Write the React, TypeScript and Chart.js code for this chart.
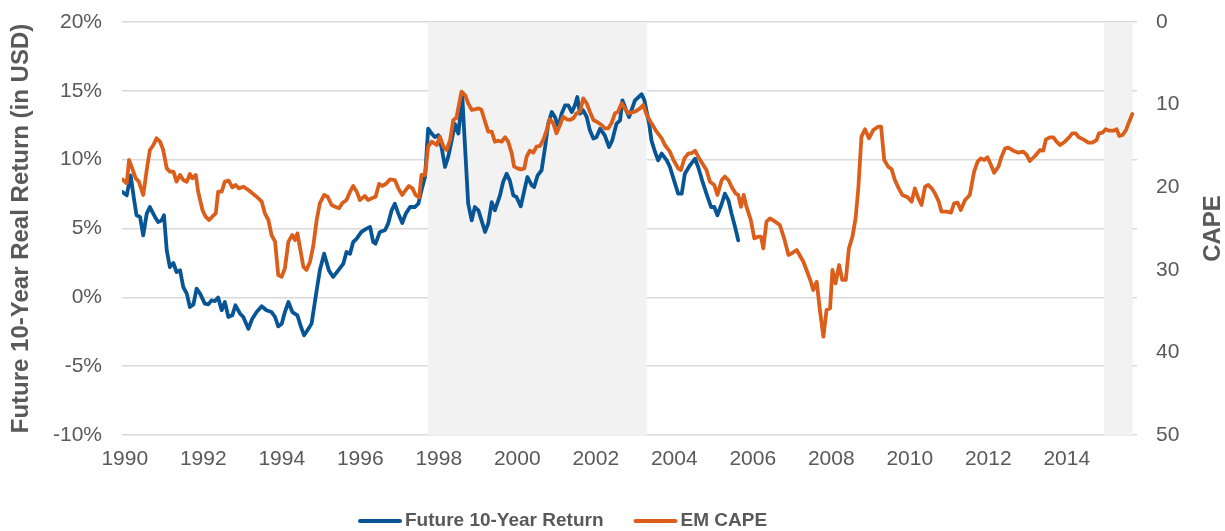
import React, { useEffect, useRef } from 'react';
import { Chart, registerables } from 'chart.js';

Chart.register(...registerables);

// ---------------- DATA ----------------
const seriesNames = ['Future 10-Year Return', 'EM CAPE'];
const leftTitle = 'Future 10-Year Real Return (in USD)';
const rightTitle = 'CAPE';
const yearTicks = [1990, 1992, 1994, 1996, 1998, 2000, 2002, 2004, 2006, 2008, 2010, 2012, 2014];
const shadeStarts = [1997.72, 2014.95];
const shadeEnds = [2003.3, 2015.68];

const returnYears = [
  1989.94, 1990.05, 1990.15, 1990.24, 1990.3, 1990.39, 1990.47, 1990.56, 1990.64, 1990.77, 1990.85, 1990.94,
  1991.0, 1991.07, 1991.15, 1991.24, 1991.32, 1991.41, 1991.49, 1991.58, 1991.66, 1991.75, 1991.83, 1991.92,
  1992.04, 1992.13, 1992.21, 1992.3, 1992.38, 1992.47, 1992.55, 1992.64, 1992.74, 1992.82, 1992.94,
  1993.02, 1993.15, 1993.25, 1993.36, 1993.49, 1993.61, 1993.74, 1993.83, 1993.91,
  1994.0, 1994.08, 1994.17, 1994.27, 1994.4, 1994.49, 1994.57, 1994.68, 1994.76, 1994.89, 1994.97,
  1995.08, 1995.2, 1995.31, 1995.44, 1995.57, 1995.65, 1995.74, 1995.82, 1995.91,
  1996.03, 1996.16, 1996.25, 1996.33, 1996.39, 1996.5, 1996.63, 1996.71, 1996.8, 1996.88, 1996.97,
  1997.07, 1997.16, 1997.27, 1997.39, 1997.48, 1997.56, 1997.65, 1997.73, 1997.82, 1997.9, 1997.99,
  1998.07, 1998.16, 1998.24, 1998.33, 1998.41, 1998.5, 1998.6, 1998.75, 1998.84, 1998.92,
  1999.01, 1999.09, 1999.18, 1999.26, 1999.35, 1999.43, 1999.56, 1999.64, 1999.73, 1999.81, 1999.9, 1999.98,
  2000.09, 2000.2, 2000.26, 2000.37, 2000.43, 2000.52, 2000.62, 2000.71, 2000.79, 2000.88, 2000.96,
  2001.05, 2001.13, 2001.22, 2001.3, 2001.39, 2001.47, 2001.53, 2001.6, 2001.68, 2001.77, 2001.85, 2001.94,
  2002.02, 2002.11, 2002.23, 2002.34, 2002.42, 2002.53, 2002.62, 2002.68, 2002.76, 2002.85,
  2003.0, 2003.17, 2003.24, 2003.36, 2003.42, 2003.51, 2003.59, 2003.68, 2003.81, 2003.89,
  2004.02, 2004.1, 2004.19, 2004.27, 2004.4, 2004.53, 2004.61, 2004.71, 2004.82, 2004.94,
  2005.02, 2005.1, 2005.21, 2005.29, 2005.38, 2005.46, 2005.55, 2005.63,
];
const returnValues = [
  7.65, 7.41, 8.86, 7.05, 5.96, 5.84, 4.5, 6.08, 6.56, 5.84, 5.47, 5.59,
  5.96, 3.41, 2.2, 2.49, 1.84, 1.96, 0.75, 0.27, -0.7, -0.51, 0.63, 0.27,
  -0.46, -0.51, -0.22, -0.27, -0.02, -0.94, -0.34, -1.43, -1.31, -0.58, -1.19,
  -1.43, -2.28, -1.55, -1.07, -0.65, -0.94, -1.07, -1.43, -2.11,
  -1.91, -1.07, -0.34, -1.07, -1.31, -2.15, -2.76, -2.28, -1.91, 0.51, 1.96,
  3.17, 1.96, 1.48, 1.96, 2.45, 3.29, 3.17, 4.02, 4.26,
  4.75, 4.99, 5.11, 4.02, 3.9, 4.75, 4.87, 5.35, 6.32, 6.8, 6.08,
  5.4, 6.08, 6.56, 6.56, 6.8, 7.77, 8.74, 12.25, 11.89, 11.65, 11.77,
  10.92, 9.47, 10.19, 11.4, 12.6, 11.9, 14.55, 6.8, 5.59, 6.56,
  6.32, 5.59, 4.75, 5.35, 6.92, 6.32, 7.41, 8.38, 8.98, 8.5, 7.41, 7.29,
  6.61, 8.01, 8.74, 8.14, 8.01, 8.86, 9.23, 10.92, 12.62, 13.46, 13.1,
  12.37, 13.34, 13.95, 13.95, 13.46, 13.95, 14.55, 13.34, 13.58, 13.1, 12.13, 11.53,
  11.65, 12.25, 11.77, 10.92, 11.4, 12.62, 12.86, 14.31, 13.7, 13.1,
  14.31, 14.75, 14.31, 12.62, 11.4, 10.56, 9.95, 10.44, 9.95, 9.47,
  8.26, 7.53, 7.53, 8.98, 9.59, 10.07, 9.47, 8.5, 7.53, 6.56,
  6.56, 5.96, 6.8, 7.53, 7.05, 6.08, 5.11, 4.14,
];

const capeYears = [
  1989.94, 1990.05, 1990.11, 1990.19, 1990.28, 1990.36, 1990.47, 1990.56, 1990.64, 1990.73, 1990.81, 1990.9, 1990.98,
  1991.07, 1991.15, 1991.24, 1991.32, 1991.41, 1991.49, 1991.58, 1991.66, 1991.72, 1991.81, 1991.87, 1991.98,
  1992.06, 1992.15, 1992.23, 1992.32, 1992.38, 1992.47, 1992.55, 1992.65, 1992.74, 1992.82, 1992.91,
  1993.02, 1993.15, 1993.25, 1993.36, 1993.49, 1993.57, 1993.66, 1993.74, 1993.83, 1993.91,
  1994.0, 1994.08, 1994.17, 1994.27, 1994.34, 1994.4, 1994.46, 1994.55, 1994.63, 1994.72, 1994.8, 1994.89, 1994.97,
  1995.08, 1995.17, 1995.27, 1995.36, 1995.46, 1995.54, 1995.65, 1995.74, 1995.82, 1995.91, 1995.99,
  1996.12, 1996.2, 1996.29, 1996.39, 1996.48, 1996.56, 1996.65, 1996.76, 1996.88, 1996.97,
  1997.07, 1997.16, 1997.24, 1997.33, 1997.41, 1997.5, 1997.56, 1997.65, 1997.73, 1997.82, 1997.95,
  1998.03, 1998.12, 1998.2, 1998.29, 1998.37, 1998.45, 1998.58, 1998.67, 1998.75, 1998.84, 1998.92,
  1999.02, 1999.09, 1999.18, 1999.26, 1999.35, 1999.43, 1999.52, 1999.6, 1999.69, 1999.77, 1999.86, 1999.92,
  2000.01, 2000.09, 2000.18, 2000.24, 2000.32, 2000.41, 2000.49, 2000.58, 2000.66, 2000.75, 2000.83, 2000.92,
  2001.0, 2001.09, 2001.17, 2001.26, 2001.34, 2001.43, 2001.51, 2001.6, 2001.68, 2001.77, 2001.85, 2001.94,
  2002.02, 2002.15, 2002.23, 2002.32, 2002.4, 2002.49, 2002.57, 2002.66, 2002.74, 2002.83,
  2003.0, 2003.13, 2003.21, 2003.3, 2003.42, 2003.55, 2003.68, 2003.76, 2003.89, 2003.98,
  2004.1, 2004.17, 2004.26, 2004.36, 2004.44, 2004.53, 2004.61, 2004.74, 2004.82, 2004.91,
  2005.02, 2005.1, 2005.21, 2005.29, 2005.38, 2005.46, 2005.56, 2005.63, 2005.7, 2005.77, 2005.84, 2005.95,
  2006.04, 2006.14, 2006.21, 2006.27, 2006.35, 2006.44, 2006.57, 2006.69, 2006.8, 2006.91, 2006.99,
  2007.12, 2007.29, 2007.37, 2007.48, 2007.54, 2007.63, 2007.71, 2007.8, 2007.88, 2007.97,
  2008.03, 2008.11, 2008.2, 2008.28, 2008.37, 2008.45, 2008.54, 2008.62, 2008.69, 2008.77, 2008.86, 2008.96,
  2009.07, 2009.2, 2009.27, 2009.35, 2009.45, 2009.54, 2009.62, 2009.72, 2009.81, 2009.95,
  2010.05, 2010.13, 2010.22, 2010.3, 2010.39, 2010.47, 2010.56, 2010.64, 2010.74, 2010.81, 2010.94,
  2011.05, 2011.13, 2011.22, 2011.3, 2011.41, 2011.53, 2011.64, 2011.73, 2011.81, 2011.9, 2011.98,
  2012.07, 2012.15, 2012.26, 2012.34, 2012.43, 2012.51, 2012.64, 2012.77, 2012.89, 2012.98,
  2013.06, 2013.19, 2013.32, 2013.4, 2013.47, 2013.57, 2013.66, 2013.74, 2013.83, 2013.95,
  2014.06, 2014.14, 2014.23, 2014.31, 2014.42, 2014.55, 2014.65, 2014.76, 2014.82, 2014.91, 2014.99,
  2015.08, 2015.19, 2015.27, 2015.34, 2015.42, 2015.51, 2015.58, 2015.67,
];
const capeValues = [
  19.05, 19.53, 16.71, 17.72, 18.93, 19.33, 20.94, 17.92, 15.5, 14.89, 14.08, 14.49, 15.5,
  17.72, 18.12, 18.12, 19.33, 18.52, 19.13, 19.33, 18.4, 18.93, 18.52, 20.54, 22.76,
  23.57, 23.97, 23.57, 23.16, 20.54, 20.54, 19.33, 19.21, 20.02, 19.73, 20.14,
  19.94, 20.34, 20.74, 21.15, 21.75, 23.16, 23.97, 25.79, 26.59, 30.63,
  30.83, 29.82, 26.59, 25.79, 26.39, 25.59, 27.2, 29.62, 30.02, 29.02, 27.2, 23.97, 21.95,
  20.94, 21.15, 22.15, 22.36, 22.56, 21.95, 21.55, 20.54, 19.85, 20.54, 21.55,
  21.07, 21.55, 21.35, 21.15, 19.61, 19.85, 19.61, 19.05, 19.13, 20.14,
  20.94, 20.34, 19.85, 20.14, 20.94, 21.23, 18.52, 18.52, 15.09, 14.49, 14.89,
  13.88, 15.09, 15.5, 14.29, 11.86, 11.6, 8.43, 8.84, 9.85, 10.65, 10.57,
  10.45, 10.65, 12.07, 13.28, 13.28, 14.49, 14.37, 14.49, 13.96, 14.49, 15.9, 17.51,
  17.72, 17.84, 17.72, 16.3, 15.58, 15.82, 15.09, 15.01, 14.29, 13.08, 11.78, 12.27,
  13.48, 12.47, 11.46, 11.78, 11.86, 11.66, 11.06, 10.85, 9.24, 9.85, 10.85, 11.86,
  12.07, 12.47, 12.87, 12.87, 12.27, 11.06, 10.85, 9.85, 10.45, 11.06,
  10.85, 10.45, 10.05, 11.26, 12.27, 13.28, 14.08, 14.89, 15.7, 16.71,
  17.72, 17.92, 16.51, 15.9, 15.9, 15.58, 16.3, 17.31, 17.92, 19.33,
  19.73, 20.94, 19.13, 18.72, 19.13, 19.94, 20.74, 20.94, 22.36, 20.94, 22.36, 23.97,
  26.19, 25.99, 25.99, 27.4, 24.17, 23.77, 24.17, 24.58, 26.19, 28.21, 28.01,
  27.6, 29.02, 30.02, 31.44, 32.45, 31.44, 34.87, 38.1, 34.87, 34.67,
  30.02, 31.64, 29.42, 31.23, 31.23, 27.4, 25.99, 23.77, 20.14, 13.88, 12.99, 14.08,
  13.08, 12.67, 12.67, 16.71, 17.51, 17.84, 19.13, 20.14, 20.94, 21.23,
  21.75, 20.14, 21.35, 22.15, 19.94, 19.73, 20.14, 20.74, 21.75, 22.96, 22.96,
  23.08, 21.95, 21.87, 22.76, 21.55, 20.94, 18.12, 16.91, 16.51, 16.71, 16.38,
  17.31, 18.24, 17.51, 16.3, 15.29, 15.21, 15.58, 15.82, 15.7, 16.1,
  16.83, 16.22, 15.5, 15.58, 14.21, 13.96, 13.96, 14.49, 14.89, 14.49,
  13.96, 13.48, 13.48, 13.96, 14.21, 14.61, 14.61, 14.29, 13.48, 13.4, 12.99,
  13.16, 13.16, 12.99, 13.8, 13.68, 13.08, 12.19, 11.14,
];

// ---------------- STYLE ----------------
const BLUE = '#075595';
const ORANGE = '#db5f1b';
const TEXT = '#595959';
const GRID = '#d9d9d9';
const SHADE = '#f2f2f2';
const FONT = "'Liberation Sans', Arial, Helvetica, sans-serif";

const shadePlugin = {
  id: 'shadeRegions',
  beforeDatasetsDraw(chart: any) {
    const { ctx, chartArea, scales } = chart;
    const x = scales.x;
    ctx.save();
    ctx.fillStyle = SHADE;
    for (let i = 0; i < shadeStarts.length; i++) {
      const x0 = x.getPixelForValue(shadeStarts[i]);
      const x1 = x.getPixelForValue(shadeEnds[i]);
      ctx.fillRect(x0, chartArea.top, x1 - x0, chartArea.bottom - chartArea.top);
    }
    ctx.restore();
  },
};

const extrasPlugin = {
  id: 'extras',
  afterDraw(chart: any) {
    const { ctx, chartArea } = chart;
    ctx.save();
    // right axis title, reading bottom-to-top
    ctx.fillStyle = TEXT;
    ctx.font = `bold 24px ${FONT}`;
    ctx.textAlign = 'center';
    ctx.textBaseline = 'middle';
    ctx.translate(chart.width - 12, (chartArea.top + chartArea.bottom) / 2);
    ctx.rotate(-Math.PI / 2);
    ctx.fillText(rightTitle, 0, 0);
    ctx.restore();

    // legend
    ctx.save();
    ctx.font = `bold 19px ${FONT}`;
    ctx.textBaseline = 'middle';
    ctx.textAlign = 'left';
    ctx.lineCap = 'round';
    ctx.lineWidth = 4;
    const cy = 521;
    const colors = [BLUE, ORANGE];
    let x = 358;
    seriesNames.forEach((name, i) => {
      ctx.strokeStyle = colors[i];
      ctx.beginPath();
      ctx.moveTo(x + 2, cy);
      ctx.lineTo(x + 42, cy);
      ctx.stroke();
      ctx.fillStyle = TEXT;
      ctx.fillText(name, x + 47, cy);
      x += 47 + ctx.measureText(name).width + 30;
    });
    ctx.restore();
  },
};

export default function App() {
  const canvasRef = useRef<HTMLCanvasElement | null>(null);

  useEffect(() => {
    if (!canvasRef.current) return;
    const chart = new Chart(canvasRef.current, {
      type: 'line',
      data: {
        datasets: [
          {
            label: seriesNames[0],
            data: returnYears.map((yr, i) => ({ x: yr, y: returnValues[i] })),
            borderColor: BLUE,
            backgroundColor: BLUE,
            borderWidth: 3.8,
            pointRadius: 0,
            tension: 0,
            borderJoinStyle: 'round',
            borderCapStyle: 'round',
            yAxisID: 'y',
            order: 2,
          },
          {
            label: seriesNames[1],
            data: capeYears.map((yr, i) => ({ x: yr, y: capeValues[i] })),
            borderColor: ORANGE,
            backgroundColor: ORANGE,
            borderWidth: 3.8,
            pointRadius: 0,
            tension: 0,
            borderJoinStyle: 'round',
            borderCapStyle: 'round',
            yAxisID: 'y2',
            order: 1,
          },
        ],
      },
      options: {
        animation: false,
        responsive: true,
        maintainAspectRatio: false,
        events: [],
        layout: { padding: { top: 22, left: 0, right: 0, bottom: 56 } },
        plugins: {
          legend: { display: false },
          tooltip: { enabled: false },
        },
        scales: {
          x: {
            type: 'linear',
            min: 1989.93,
            max: 2015.79,
            afterBuildTicks: (s: any) => {
              s.ticks = yearTicks.map((v) => ({ value: v }));
            },
            afterFit: (s: any) => {
              s.height = 40;
            },
            ticks: {
              autoSkip: false,
              maxRotation: 0,
              padding: 12,
              color: TEXT,
              font: { size: 21, family: FONT },
              callback: (v: any) => String(v),
            },
            grid: { display: false, drawTicks: false },
            border: { display: false },
          },
          y: {
            position: 'left',
            min: -10,
            max: 20,
            ticks: {
              stepSize: 5,
              padding: 20,
              color: TEXT,
              font: { size: 21, family: FONT },
              callback: (v: any) => `${v}%`,
            },
            grid: { color: GRID, lineWidth: 1.5, drawTicks: false },
            border: { display: false },
            title: {
              display: true,
              text: leftTitle,
              color: TEXT,
              font: { size: 24, weight: 'bold', family: FONT },
              padding: { top: 7, bottom: 0 },
            },
            afterFit: (s: any) => {
              s.width = 122;
              s.paddingTop = 0;
              s.paddingBottom = 0;
            },
          },
          y2: {
            position: 'right',
            min: 0,
            max: 50,
            reverse: true,
            ticks: {
              stepSize: 10,
              padding: 19,
              color: TEXT,
              font: { size: 21, family: FONT },
            },
            grid: { display: false, drawTicks: false },
            border: { display: false },
            afterFit: (s: any) => {
              s.width = 88;
              s.paddingTop = 0;
              s.paddingBottom = 0;
            },
          },
        },
      },
      plugins: [shadePlugin, extrasPlugin],
    } as any);
    return () => chart.destroy();
  }, []);

  return (
    <div style={{ position: 'absolute', left: 0, top: 0, width: 1225, height: 531 }}>
      <canvas ref={canvasRef} />
    </div>
  );
}
